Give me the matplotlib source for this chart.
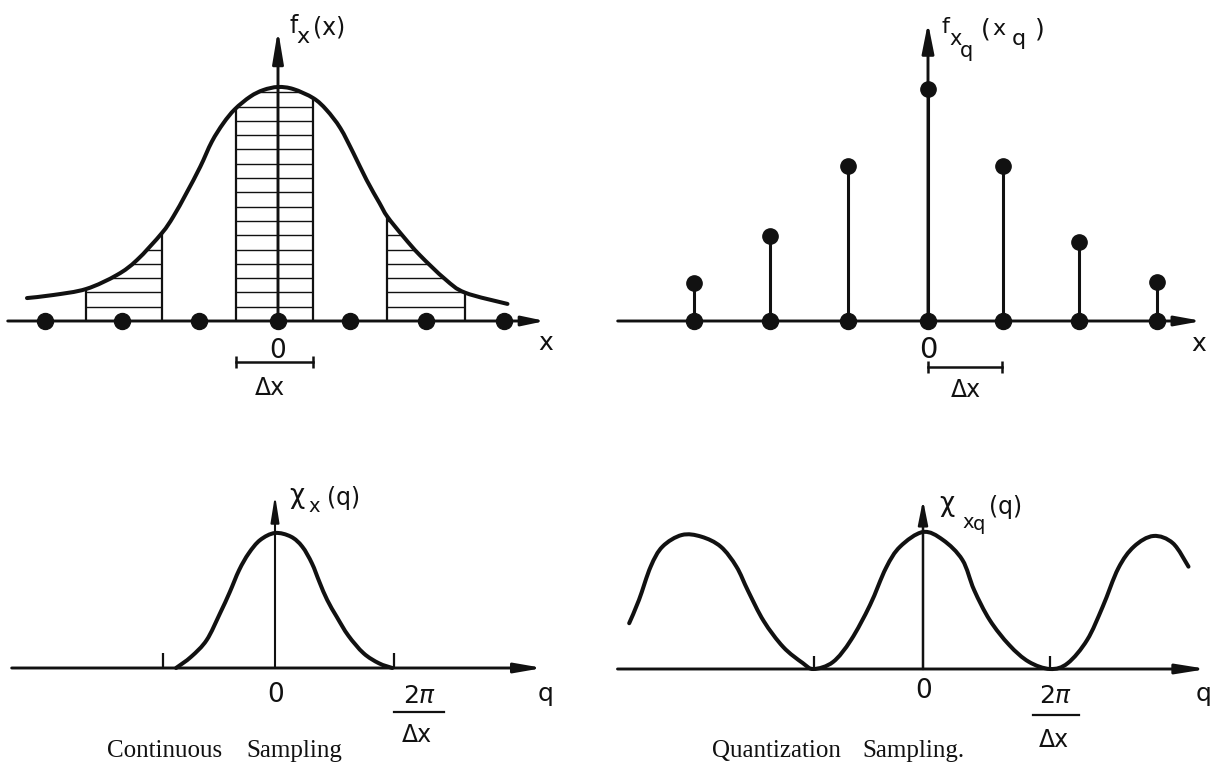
import numpy as np
import matplotlib
matplotlib.use("Agg")
import matplotlib.pyplot as plt
from matplotlib.patches import PathPatch
from matplotlib.path import Path

plt.rcParams['font.family'] = ['DejaVu Sans']
plt.rcParams['mathtext.fontset'] = 'dejavusans'

# ---------------- data ----------------
# top-left: continuous density f_x(x); x in units of Δx, y relative to peak
tl_curve_x = [-3.26, -2.92, -2.49, -2.09, -1.83, -1.51, -1.36, -1.19, -1.01, -0.86,
              -0.71, -0.56, -0.36, -0.19, 0.00, 0.20, 0.46, 0.63, 0.81, 0.98,
              1.15, 1.32, 1.42, 1.63, 1.84, 2.17, 2.43, 2.98]
tl_curve_y = [0.098, 0.111, 0.137, 0.197, 0.261, 0.375, 0.446, 0.546, 0.659, 0.766,
              0.845, 0.905, 0.959, 0.987, 1.000, 0.991, 0.952, 0.902, 0.824, 0.717,
              0.603, 0.503, 0.446, 0.360, 0.282, 0.179, 0.121, 0.073]
tl_samples = [-3.03, -2.03, -1.02, 0.00, 0.93, 1.92, 2.94]
tl_strips = [(-2.50, -1.51), (-0.55, 0.46), (1.42, 2.43)]
tl_dx_bar = [-0.54, 0.45]

# top-right: quantized density f_xq(xq)
tr_x = [-3.04, -2.05, -1.04, 0.00, 0.97, 1.96, 2.97]
tr_y = [0.164, 0.365, 0.664, 0.990, 0.664, 0.336, 0.165]
tr_dx_bar = [0.00, 0.96]

# bottom-left: characteristic function χ_x(q); q in units of 2π/Δx
bl_curve_x = [-0.853, -0.722, -0.589, -0.474, -0.391, -0.309, -0.226, -0.128, 0.000,
              0.137, 0.235, 0.318, 0.384, 0.450, 0.533, 0.632, 0.764, 0.896, 1.011]
bl_curve_y = [0.000, 0.084, 0.207, 0.405, 0.560, 0.726, 0.850, 0.948, 1.000,
              0.973, 0.899, 0.776, 0.635, 0.504, 0.378, 0.240, 0.109, 0.035, 0.000]
bl_ticks = [-0.969, 1.028]

# bottom-right: periodic characteristic function χ_xq(q)
br_curve_x = [-2.490, -2.407, -2.308, -2.208, -2.044, -1.879, -1.714, -1.581, -1.482,
              -1.350, -1.185, -1.020, -0.927, -0.763, -0.610, -0.449, -0.314, -0.194,
              0.000, 0.169, 0.334, 0.433, 0.565, 0.731, 0.896, 1.077, 1.226, 1.391,
              1.523, 1.655, 1.787, 1.953, 2.118, 2.250]
br_curve_y = [0.334, 0.504, 0.747, 0.893, 0.978, 0.966, 0.893, 0.747, 0.569,
              0.350, 0.161, 0.044, 0.000, 0.051, 0.212, 0.467, 0.737, 0.893,
              1.000, 0.942, 0.796, 0.577, 0.358, 0.175, 0.053, 0.000, 0.042, 0.212,
              0.455, 0.735, 0.893, 0.971, 0.918, 0.747]
br_ticks = [-0.927, 1.077]

captions = ["Continuous", "Sampling", "Quantization", "Sampling."]

# ---------------- layout helpers ----------------
W, H = 1211, 763
INK = '#111111'
fig = plt.figure(figsize=(W / 100, H / 100), dpi=100)
fig.patch.set_facecolor('white')


def panel(box, origin, scale):
    l, t, r, b = box
    ox, oy = origin
    sx, sy = scale
    ax = fig.add_axes([l / W, 1 - b / H, (r - l) / W, (b - t) / H])
    ax.set_xlim((l - ox) / sx, (r - ox) / sx)
    ax.set_ylim((oy - b) / sy, (oy - t) / sy)
    ax.axis('off')
    return ax


def smooth(xs, ys):
    """Bezier path through the read points (drawn smooth by matplotlib)."""
    P = np.column_stack([xs, ys]).astype(float)
    n = len(P)
    verts = [P[0]]
    codes = [Path.MOVETO]
    for i in range(n - 1):
        p0 = P[i - 1] if i > 0 else P[i]
        p1, p2 = P[i], P[i + 1]
        p3 = P[i + 2] if i + 2 < n else P[i + 1]
        verts += [p1 + (p2 - p0) / 6.0, p2 - (p3 - p1) / 6.0, p2]
        codes += [Path.CURVE4] * 3
    return verts, codes


def draw_curve(ax, xs, ys, lw=2.9):
    v, c = smooth(xs, ys)
    ax.add_patch(PathPatch(Path(v, c), fc='none', ec=INK, lw=lw,
                           capstyle='round', joinstyle='round', clip_on=False))


def arrow(ax, p0, p1, lw, L_px, W_px):
    ax.annotate('', xy=p1, xytext=p0, xycoords='data', annotation_clip=False,
                arrowprops=dict(arrowstyle=f'-|>,head_length={L_px * 0.72:.2f},'
                                           f'head_width={W_px * 0.36:.2f}',
                                mutation_scale=1, lw=lw, color=INK,
                                shrinkA=0, shrinkB=0))


def lab(x, y, s, size=17, ha='center', **kw):
    fig.text(x / W, 1 - y / H, s, ha=ha, va='baseline', fontsize=size,
             color=INK, **kw)


# ---------------- top-left ----------------
ax1 = panel((0, 0, 600, 400), (278, 321), (77, 234))
v, c = smooth(tl_curve_x, tl_curve_y)
cv = [(tl_curve_x[0], 0)] + v + [(tl_curve_x[-1], 0), (tl_curve_x[0], 0)]
cc = [Path.MOVETO, Path.LINETO] + c[1:] + [Path.LINETO, Path.CLOSEPOLY]
clip = PathPatch(Path(cv, cc), fc='none', ec='none', transform=ax1.transData)
ax1.add_patch(clip)
hatch_levels = np.arange(1, 17) * 0.0611
for a, b in tl_strips:
    vl = ax1.vlines([a, b], 0, 1.2, colors=INK, lw=1.6)
    vl.set_clip_path(clip)
    hl = ax1.hlines(hatch_levels, a, b, colors=INK, lw=1.0)
    hl.set_clip_path(clip)
draw_curve(ax1, tl_curve_x, tl_curve_y)
arrow(ax1, (-3.51, 0), (3.47, 0), 2.1, 19, 8)
arrow(ax1, (0, 0), (0, 1.244), 2.1, 27, 9)
ax1.plot(tl_samples, np.zeros(len(tl_samples)), 'o', ms=11.5, color=INK,
         zorder=5, clip_on=False)
ax1.plot(tl_dx_bar, [-0.175, -0.175], color=INK, lw=1.8, marker='|', ms=9,
         mew=1.8, clip_on=False)

# ---------------- top-right ----------------
ax2 = panel((605, 0, 1211, 400), (928, 321), (77, 234))
arrow(ax2, (-4.03, 0), (3.56, 0), 2.1, 22, 8)
arrow(ax2, (0, 0), (0, 1.274), 2.1, 25, 10)
ax2.vlines(tr_x, 0, tr_y, colors=INK, lw=2.2)
ax2.plot(tr_x, tr_y, 'o', ms=11, color=INK, zorder=5, clip_on=False)
ax2.plot(tr_x, np.zeros(len(tr_x)), 'o', ms=11.5, color=INK, zorder=5,
         clip_on=False)
ax2.plot(tr_dx_bar, [-0.197, -0.197], color=INK, lw=1.8, marker='|', ms=9,
         mew=1.8, clip_on=False)

# ---------------- bottom-left ----------------
ax3 = panel((0, 400, 600, 763), (275, 668), (116, 135))
arrow(ax3, (-2.27, 0), (2.31, 0), 2.1, 23, 8)
arrow(ax3, (0, 0), (0, 1.281), 1.5, 22, 7)
ax3.vlines(bl_ticks, 0, 0.111, colors=INK, lw=1.6)
draw_curve(ax3, bl_curve_x, bl_curve_y)

# ---------------- bottom-right ----------------
ax4 = panel((605, 400, 1211, 763), (923, 669), (118, 137))
arrow(ax4, (-2.589, 0), (2.407, 0), 2.1, 25, 8)
arrow(ax4, (0, 0), (0, 1.234), 1.8, 20, 8)
ax4.vlines(br_ticks, 0, 0.093, colors=INK, lw=1.6)
draw_curve(ax4, br_curve_x, br_curve_y)

# ---------------- labels ----------------
# top-left
lab(294, 33, 'f', 17)
lab(302.5, 43, 'x', 16)
lab(329.5, 34, '(x)', 17)
lab(277.5, 358, '0', 19)
lab(270, 395, 'Δx', 17)
lab(545.5, 350, 'x', 18)
# top-right
lab(945, 33, 'f', 16)
lab(956, 45, 'x', 15)
lab(966.5, 57, 'q', 15)
lab(985.5, 36, '(', 18)
lab(998.5, 35, 'x', 16)
lab(1019, 45, 'q', 16)
lab(1039.5, 36, ')', 18)
lab(928.5, 358, '0', 21)
lab(966, 397, 'Δx', 17)
lab(1199, 351, 'x', 18)
# bottom-left
lab(296.5, 503, 'χ', 19)
lab(314, 512, 'x', 14)
lab(343.5, 505, '(q)', 17)
lab(275.5, 702, '0', 19)
lab(545.5, 701, 'q', 18)
lab(420, 703, r'2$\pi$', 18)
fig.add_artist(plt.Line2D([394 / W, 444 / W], [1 - 711.7 / H, 1 - 711.7 / H],
                          color=INK, lw=1.6))
lab(417, 742, 'Δx', 17)
# bottom-right
lab(946.5, 511, 'χ', 19)
lab(968, 528, 'x', 14)
lab(979.5, 530, 'q', 14)
lab(1005.5, 514, '(q)', 17)
lab(923.5, 698, '0', 19)
lab(1204, 701, 'q', 18)
lab(1056, 703, r'2$\pi$', 18)
fig.add_artist(plt.Line2D([1033 / W, 1079 / W], [1 - 715 / H, 1 - 715 / H],
                          color=INK, lw=1.6))
lab(1054, 747, 'Δx', 17)

# captions (serif)
serif = ['Liberation Serif', 'DejaVu Serif']
lab(164.5, 757, captions[0], 18, family=serif)
lab(294, 757, captions[1], 18, family=serif)
lab(776, 757, captions[2], 18, family=serif)
lab(913.5, 757, captions[3], 18, family=serif)

fig.savefig('out.png', dpi=100, facecolor='white')
